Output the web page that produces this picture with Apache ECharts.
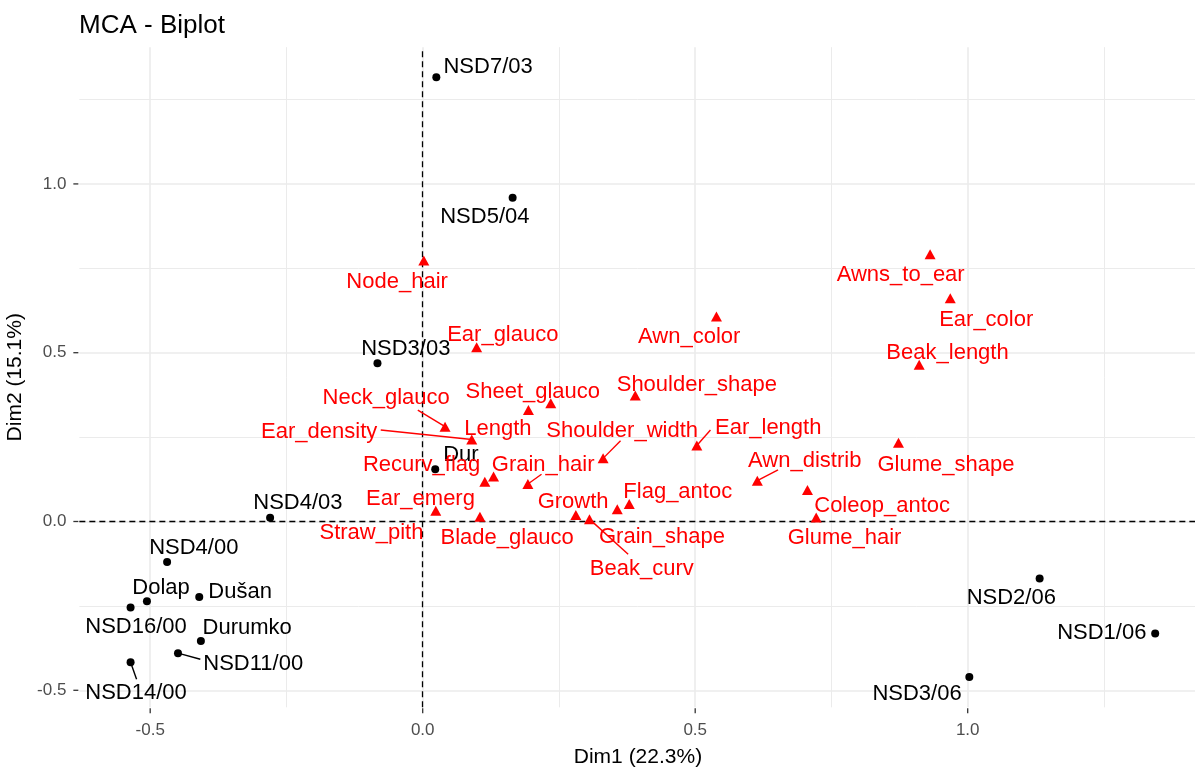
<!DOCTYPE html>
<html>
<head>
<meta charset="utf-8">
<script src="https://cdn.jsdelivr.net/npm/echarts@6/dist/echarts.min.js"></script>
<style>html,body{margin:0;padding:0;background:#fff}#chart{width:1195px;height:767px}</style>
</head>
<body>
<div id="chart"></div>
<script>
// ---- Individuals (black points) ----
const indNames = ['NSD7/03','NSD5/04','NSD3/03','NSD4/03','NSD4/00','Dolap','Dušan','NSD16/00','Durumko','NSD11/00','NSD14/00','Dur','NSD2/06','NSD1/06','NSD3/06'];
const indX = [0.025,0.165,-0.083,-0.280,-0.469,-0.506,-0.410,-0.536,-0.407,-0.449,-0.536,0.023,1.132,1.344,1.003];
const indY = [1.316,0.959,0.469,0.011,-0.120,-0.236,-0.224,-0.255,-0.354,-0.390,-0.417,0.155,-0.169,-0.332,-0.461];
const indLabX = [0.120,0.114,-0.031,-0.229,-0.420,-0.480,-0.335,-0.526,-0.322,-0.311,-0.526,0.070,1.080,1.246,0.907];
const indLabY = [1.348,0.903,0.510,0.055,-0.079,-0.196,-0.210,-0.313,-0.316,-0.422,-0.509,0.197,-0.225,-0.329,-0.511];

// ---- Variables (red triangles) ----
const varNames = ['Node_hair','Ear_glauco','Awn_color','Awns_to_ear','Ear_color','Beak_length','Length','Sheet_glauco','Shoulder_shape','Neck_glauco','Ear_density','Shoulder_width','Ear_length','Recurv_flag','Ear_emerg','Grain_hair','Awn_distrib','Glume_shape','Straw_pith','Blade_glauco','Growth','Beak_curv','Grain_shape','Flag_antoc','Coleop_antoc','Glume_hair'];
const varX = [0.002,0.099,0.539,0.931,0.968,0.911,0.194,0.235,0.390,0.041,0.090,0.331,0.503,0.130,0.114,0.193,0.614,0.873,0.024,0.105,0.281,0.306,0.357,0.379,0.706,0.722];
const varY = [0.773,0.516,0.607,0.792,0.661,0.464,0.330,0.350,0.373,0.281,0.243,0.187,0.225,0.133,0.118,0.111,0.121,0.233,0.032,0.014,0.019,0.007,0.036,0.052,0.093,0.012];
const varLabX = [-0.047,0.147,0.489,0.877,1.034,0.963,0.138,0.202,0.503,-0.067,-0.190,0.366,0.634,-0.002,-0.004,0.221,0.701,0.960,-0.094,0.155,0.276,0.402,0.439,0.468,0.843,0.774];
const varLabY = [0.710,0.552,0.547,0.730,0.597,0.498,0.273,0.385,0.404,0.365,0.266,0.268,0.278,0.167,0.066,0.167,0.179,0.169,-0.035,-0.050,0.059,-0.141,-0.045,0.088,0.046,-0.050];

// ---- Repel segments (label side end points) ----
const segVarNames = ['Neck_glauco','Ear_density','Shoulder_width','Ear_length','Grain_hair','Awn_distrib','Beak_curv'];
const segVarFromX = [-0.009,-0.077,0.363,0.528,0.218,0.652,0.377];
const segVarFromY = [0.330,0.271,0.239,0.271,0.140,0.153,-0.097];
const segIndNames = ['NSD11/00','NSD14/00'];
const segIndFromX = [-0.408,-0.525];
const segIndFromY = [-0.408,-0.467];

// ---- Axes ----
const xTicks = [-0.5, 0.0, 0.5, 1.0];
const yTicks = [-0.5, 0.0, 0.5, 1.0];
const xMinor = [-0.25, 0.25, 0.75, 1.25];
const yMinor = [-0.25, 0.25, 0.75, 1.25];
const xRange = [-0.63, 1.42];
const yRange = [-0.5504, 1.405];

const FONT = 'Liberation Sans, Arial, Helvetica, sans-serif';

function gridMarks() {
  const d = [];
  xMinor.forEach(v => d.push({xAxis: v, lineStyle: {color: '#ebebeb', width: 1, type: 'solid'}}));
  yMinor.forEach(v => d.push({yAxis: v, lineStyle: {color: '#ebebeb', width: 1, type: 'solid'}}));
  xTicks.forEach(v => d.push({xAxis: v, lineStyle: {color: '#ebebeb', width: 1.6, type: 'solid'}}));
  yTicks.forEach(v => d.push({yAxis: v, lineStyle: {color: '#ebebeb', width: 1.6, type: 'solid'}}));
  return d;
}

const varSegs = segVarNames.map((n, i) => {
  const k = varNames.indexOf(n);
  return {coords: [[segVarFromX[i], segVarFromY[i]], [varX[k], varY[k]]]};
});
const indSegs = segIndNames.map((n, i) => {
  const k = indNames.indexOf(n);
  return {coords: [[segIndFromX[i], segIndFromY[i]], [indX[k], indY[k]]]};
});

function labelSeries(names, lx, ly, color) {
  return {
    type: 'scatter', z: 6, silent: true,
    symbol: 'circle', symbolSize: 1,
    itemStyle: {color: 'rgba(0,0,0,0)', opacity: 1},
    label: {show: true, position: 'inside', formatter: p => p.data[2], opacity: 1,
      color: color, fontSize: 22, fontFamily: FONT, align: 'center', verticalAlign: 'middle'},
    data: names.map((n, i) => [lx[i], ly[i], n])
  };
}

const chart = echarts.init(document.getElementById('chart'), null, {renderer: 'canvas'});
chart.setOption({
  animation: false,
  backgroundColor: '#ffffff',
  title: {text: 'MCA - Biplot', left: 79, top: 13, padding: 0,
    textStyle: {fontFamily: FONT, fontSize: 26, fontWeight: 'normal', color: '#000'}},
  grid: {left: 79.35, right: -1.6, top: 47.2, bottom: 59.7, containLabel: false, outerBoundsMode: 'none'},
  xAxis: {
    type: 'value', min: xRange[0], max: xRange[1],
    name: 'Dim1 (22.3%)', nameLocation: 'middle', nameGap: 39,
    nameTextStyle: {fontFamily: FONT, fontSize: 21, color: '#000'},
    axisLine: {show: false},
    axisTick: {show: false},
    axisLabel: {customValues: xTicks, margin: 15, fontFamily: FONT, fontSize: 17, color: '#4d4d4d',
      formatter: v => v.toFixed(1)},
    splitLine: {show: false}
  },
  yAxis: {
    type: 'value', min: yRange[0], max: yRange[1],
    name: 'Dim2 (15.1%)', nameLocation: 'middle', nameGap: 41,
    nameTextStyle: {fontFamily: FONT, fontSize: 21, color: '#000'},
    axisLine: {show: false},
    axisTick: {show: false},
    axisLabel: {customValues: yTicks, margin: 13, fontFamily: FONT, fontSize: 17, color: '#4d4d4d',
      formatter: v => v.toFixed(1)},
    splitLine: {show: false}
  },
  series: [
    {type: 'line', data: [], z: 1, silent: true,
      markLine: {z: 1, silent: true, symbol: ['none', 'none'], label: {show: false}, animation: false, data: gridMarks()}},
    {type: 'line', data: [], z: 2, silent: true,
      markLine: {z: 2, silent: true, symbol: ['none', 'none'], label: {show: false}, animation: false,
        lineStyle: {color: '#000', width: 1.3, type: [6, 4], opacity: 1},
        data: [{xAxis: 0}, {yAxis: 0}]}},
    {type: 'lines', coordinateSystem: 'cartesian2d', z: 3, silent: true,
      lineStyle: {color: '#ff0000', width: 1.4, opacity: 1}, data: varSegs},
    {type: 'lines', coordinateSystem: 'cartesian2d', z: 3, silent: true,
      lineStyle: {color: '#000000', width: 1.4, opacity: 1}, data: indSegs},
    {type: 'scatter', z: 4, silent: true, symbol: 'circle', symbolSize: 8,
      itemStyle: {color: '#000', opacity: 1}, data: indNames.map((n, i) => [indX[i], indY[i]])},
    {type: 'scatter', z: 4, silent: true, symbol: 'triangle', symbolSize: [11, 10],
      itemStyle: {color: '#ff0000', opacity: 1}, data: varNames.map((n, i) => [varX[i], varY[i]])},
    labelSeries(indNames, indLabX, indLabY, '#000000'),
    labelSeries(varNames, varLabX, varLabY, '#ff0000')
  ]
});

// axis tick marks, positioned through the chart's own axis scales
const tickEls = [];
xTicks.forEach(v => {
  const p = chart.convertToPixel({gridIndex: 0}, [v, yRange[0]]);
  tickEls.push({type: 'line', silent: true, z: 10,
    shape: {x1: p[0], y1: p[1] + 1, x2: p[0], y2: p[1] + 6},
    style: {stroke: '#333333', lineWidth: 1.3}});
});
yTicks.forEach(v => {
  const p = chart.convertToPixel({gridIndex: 0}, [xRange[0], v]);
  tickEls.push({type: 'line', silent: true, z: 10,
    shape: {x1: p[0] - 6, y1: p[1], x2: p[0] - 1, y2: p[1]},
    style: {stroke: '#333333', lineWidth: 1.3}});
});
chart.setOption({graphic: {elements: tickEls}});
</script>
</body>
</html>
